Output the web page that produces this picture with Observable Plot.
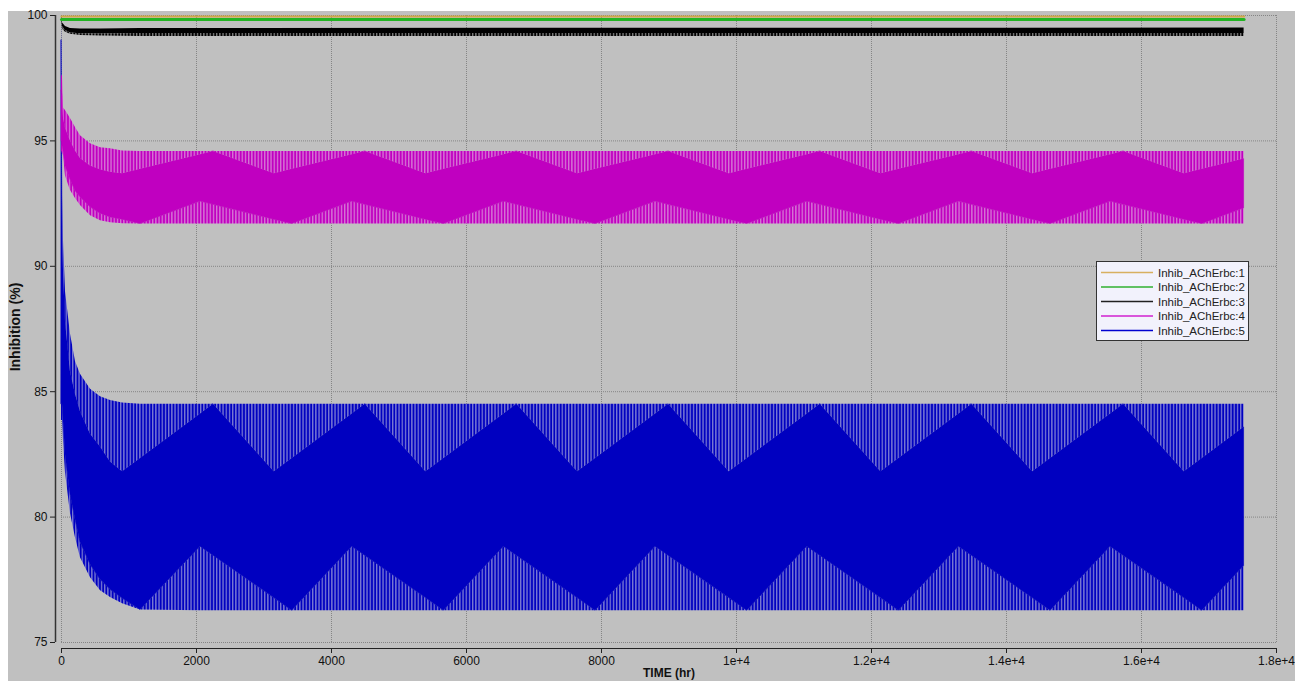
<!DOCTYPE html>
<html>
<head>
<meta charset="utf-8">
<script src="https://cdn.jsdelivr.net/npm/d3@7"></script>
<script src="https://cdn.jsdelivr.net/npm/@observablehq/plot@0.6"></script>
<style>
  html, body { margin: 0; padding: 0; background: #ffffff; }
  body { width: 1295px; height: 681px; position: relative; overflow: hidden; font-family: "Liberation Sans", Arial, sans-serif; }
  #panel { position: absolute; left: 8px; top: 11px; width: 1287px; height: 670px; background: #c0c0c0; overflow: visible; }
  #chart { position: absolute; left: 0; top: 0; }
  #ylab { position: absolute; left: 7px; top: 316px; transform: translate(-50%, -50%) rotate(-90deg); font-weight: bold; font-size: 14px; color: #111; white-space: nowrap; }
  #xlab { position: absolute; left: 661px; top: 656px; transform: translateX(-50%); font-weight: bold; font-size: 12px; color: #111; white-space: nowrap; line-height: 13px; }
  #legend { position: absolute; left: 1088px; top: 250px; width: 151px; height: 78px; background: #f2f2fc; border: 1px solid #333; }
</style>
</head>
<body>
<div id="panel">
  <div id="chart"></div>
  <div id="ylab">Inhibition (%)</div>
  <div id="xlab">TIME (hr)</div>
  <div id="legend"></div>
</div>
<script>
// ---- tick values / labels ----
const xTicks = [0, 2000, 4000, 6000, 8000, 10000, 12000, 14000, 16000, 18000];
const xTickLabels = ["0", "2000", "4000", "6000", "8000", "1e+4", "1.2e+4", "1.4e+4", "1.6e+4", "1.8e+4"];
const yTicks = [75, 80, 85, 90, 95, 100];

// ---- series names & colours ----
const seriesNames = ["Inhib_AChErbc:1", "Inhib_AChErbc:2", "Inhib_AChErbc:3", "Inhib_AChErbc:4", "Inhib_AChErbc:5"];
const legendColors = ["#d8b060", "#30b030", "#202020", "#d020d0", "#0000d0"];

// ---- envelope time points (hr) for series 4 and 5 ----
const T = [0, 15, 30, 59, 133, 207, 281, 430, 578, 726, 904, 1170, 2059, 2252,
  3151, 3417, 4306, 4499, 5398, 5664, 6553, 6746, 7645, 7911, 8800, 8993,
  9892, 10158, 11047, 11240, 12139, 12405, 13294, 13487, 14386, 14652, 15541, 15734,
  16633, 16899, 17520];

// Series 5 (blue): highest peaks, lowest peaks, highest troughs, lowest troughs
const s5Hi = [100, 92.8, 91.0, 89.0, 87.3, 86.2, 85.7, 85.1, 84.8, 84.65, 84.55, 84.5, 84.5, 84.5,
  84.5, 84.5, 84.5, 84.5, 84.5, 84.5, 84.5, 84.5, 84.5, 84.5, 84.5, 84.5,
  84.5, 84.5, 84.5, 84.5, 84.5, 84.5, 84.5, 84.5, 84.5, 84.5, 84.5, 84.5,
  84.5, 84.5, 84.5];
const s5HiIn = [99, 91.5, 89.8, 87.8, 85.8, 84.9, 84.2, 83.3, 82.8, 82.2, 81.81, 82.34, 84.11, 84.5,
  81.81, 82.34, 84.11, 84.5, 81.81, 82.34, 84.11, 84.5, 81.81, 82.34, 84.11, 84.5,
  81.81, 82.34, 84.11, 84.5, 81.81, 82.34, 84.11, 84.5, 81.81, 82.34, 84.11, 84.5,
  81.81, 82.34, 83.58];
const s5LoIn = [84.5, 84.5, 83.8, 82.5, 80.9, 79.9, 79.0, 78.1, 77.5, 77.1, 76.75, 76.3, 78.82, 78.46,
  76.77, 76.27, 78.82, 78.46, 76.77, 76.27, 78.82, 78.46, 76.77, 76.27, 78.82, 78.46,
  76.77, 76.27, 78.82, 78.46, 76.77, 76.27, 78.82, 78.46, 76.77, 76.27, 78.82, 78.46,
  76.77, 76.27, 78.05];
const s5Lo = [83.85, 83.85, 83.0, 81.77, 80.14, 79.18, 78.38, 77.58, 77.06, 76.79, 76.55, 76.3, 76.27, 76.27,
  76.27, 76.27, 76.27, 76.27, 76.27, 76.27, 76.27, 76.27, 76.27, 76.27, 76.27, 76.27,
  76.27, 76.27, 76.27, 76.27, 76.27, 76.27, 76.27, 76.27, 76.27, 76.27, 76.27, 76.27,
  76.27, 76.27, 76.27];

// Series 4 (magenta)
const s4Hi = [97.6, 97.6, 96.3, 96.21, 95.89, 95.53, 95.21, 94.89, 94.73, 94.69, 94.6, 94.58, 94.58, 94.58,
  94.58, 94.58, 94.58, 94.58, 94.58, 94.58, 94.58, 94.58, 94.58, 94.58, 94.58, 94.58,
  94.58, 94.58, 94.58, 94.58, 94.58, 94.58, 94.58, 94.58, 94.58, 94.58, 94.58, 94.58,
  94.58, 94.58, 94.58];
const s4HiIn = [97.0, 96.8, 95.9, 95.5, 95.0, 94.6, 94.3, 94.0, 93.85, 93.75, 93.69, 93.87, 94.45, 94.58,
  93.69, 93.87, 94.45, 94.58, 93.69, 93.87, 94.45, 94.58, 93.69, 93.87, 94.45, 94.58,
  93.69, 93.87, 94.45, 94.58, 93.69, 93.87, 94.45, 94.58, 93.69, 93.87, 94.45, 94.58,
  93.69, 93.87, 94.28];
const s4LoIn = [95.0, 94.8, 94.6, 94.0, 93.45, 93.0, 92.75, 92.35, 92.1, 91.95, 91.86, 91.69, 92.58, 92.45,
  91.86, 91.69, 92.58, 92.45, 91.86, 91.69, 92.58, 92.45, 91.86, 91.69, 92.58, 92.45,
  91.86, 91.69, 92.58, 92.45, 91.86, 91.69, 92.58, 92.45, 91.86, 91.69, 92.58, 92.45,
  91.86, 91.69, 92.31];
const s4Lo = [94.6, 94.5, 94.4, 93.6, 93.02, 92.7, 92.42, 92.02, 91.82, 91.74, 91.7, 91.69, 91.69, 91.69,
  91.69, 91.69, 91.69, 91.69, 91.69, 91.69, 91.69, 91.69, 91.69, 91.69, 91.69, 91.69,
  91.69, 91.69, 91.69, 91.69, 91.69, 91.69, 91.69, 91.69, 91.69, 91.69, 91.69, 91.69,
  91.69, 91.69, 91.69];

// Series 3 (black)
const s3T = [0, 15, 59, 133, 281, 578, 1170, 17520];
const s3Hi = [100, 99.7, 99.56, 99.48, 99.46, 99.46, 99.48, 99.5];
const s3Mid = [100, 99.55, 99.4, 99.3, 99.27, 99.26, 99.28, 99.28];
const s3Lo = [99.9, 99.45, 99.33, 99.25, 99.2, 99.18, 99.16, 99.16];

// Series 1 & 2 (near 100 %)
const s12T = [0, 17520];
const s1 = [99.96, 99.96];
const s2 = [99.84, 99.84];

// ---- build tables ----
const band = (hi, hiIn, loIn, lo, times) => times.map((t, i) => ({t, hi: hi[i], hiIn: hiIn[i], loIn: loIn[i], lo: lo[i]}));
const rows5 = band(s5Hi, s5HiIn, s5LoIn, s5Lo, T);
const rows4 = band(s4Hi, s4HiIn, s4LoIn, s4Lo, T);
const rows3 = s3T.map((t, i) => ({t, hi: s3Hi[i], mid: s3Mid[i], lo: s3Lo[i]}));
const rows1 = s12T.map((t, i) => ({t, v: s1[i]}));
const rows2 = s12T.map((t, i) => ({t, v: s2[i]}));

const BLUE = "#0000c0", MAG = "#c000c0", BLK = "#000000";
const H5 = "#010101", H4 = "#020202", H3 = "#030303"; // placeholders, replaced by patterns

const bandMarks = (rows, solid, hatch) => [
  Plot.areaY(rows, {x: "t", y1: "lo", y2: "loIn", fill: hatch}),
  Plot.areaY(rows, {x: "t", y1: "loIn", y2: "hiIn", fill: solid, stroke: solid, strokeWidth: 0.6}),
  Plot.areaY(rows, {x: "t", y1: "hiIn", y2: "hi", fill: hatch})
];

const gridStyle = {stroke: "#858585", strokeOpacity: 1, strokeDasharray: "1,1", strokeWidth: 1};

const chart = Plot.plot({
  width: 1287,
  height: 670,
  marginLeft: 53,
  marginRight: 19,
  marginTop: 4,
  marginBottom: 39,
  style: {background: "transparent", fontFamily: "'Liberation Sans', Arial, sans-serif", fontSize: "12px", color: "#111", overflow: "visible"},
  x: {domain: [0, 18000]},
  y: {domain: [75, 100]},
  marks: [
    Plot.gridX(xTicks, gridStyle),
    Plot.gridY(yTicks, gridStyle),
    ...bandMarks(rows5, BLUE, H5),
    ...bandMarks(rows4, MAG, H4),
    Plot.areaY(rows3, {x: "t", y1: "mid", y2: "hi", fill: BLK}),
    Plot.areaY(rows3, {x: "t", y1: "lo", y2: "mid", fill: H3}),
    Plot.lineY(rows2, {x: "t", y: "v", stroke: "#22b422", strokeWidth: 3}),
    Plot.lineY(rows1, {x: "t", y: "v", stroke: "#d0a848", strokeWidth: 2.2}),
    Plot.ruleY([75], {dy: 6, stroke: "#222", strokeWidth: 1}),
    Plot.ruleX([0], {dx: -6, stroke: "#333", strokeWidth: 1.5}),
    Plot.axisX(xTicks, {tickSize: 5, tickPadding: 3, dy: 6, stroke: "#222", fill: "#111", fontSize: 12,
      tickFormat: (d) => xTickLabels[xTicks.indexOf(d)], label: null}),
    Plot.axisY(yTicks, {tickSize: 5, tickPadding: 3, dx: -6, stroke: "#222", fill: "#111", fontSize: 12, label: null})
  ]
});
document.getElementById("chart").appendChild(chart);

// ---- hatch patterns (dense oscillation rendering) ----
const svg = d3.select(chart.tagName.toLowerCase() === "svg" ? chart : chart.querySelector("svg"));
const defs = svg.insert("defs", ":first-child");
function addPattern(id, base, stripe) {
  const p = defs.append("pattern").attr("id", id).attr("patternUnits", "userSpaceOnUse")
    .attr("width", 3.2).attr("height", 20);
  p.append("rect").attr("width", 3.2).attr("height", 20).attr("fill", base);
  p.append("rect").attr("x", 0.2).attr("width", 1.0).attr("height", 20).attr("fill", stripe);
}
addPattern("hatch5", BLUE, "#a4a4da");
addPattern("hatch4", MAG, "#dc9edc");
addPattern("hatch3", BLK, "#a8a8a8");
[[H5, "hatch5"], [H4, "hatch4"], [H3, "hatch3"]].forEach(([ph, id]) => {
  svg.node().querySelectorAll(`[fill="${ph}"]`).forEach(el => el.setAttribute("fill", `url(#${id})`));
});

// ---- legend ----
const lg = d3.select("#legend").append("svg").attr("width", 151).attr("height", 78);
seriesNames.forEach((name, i) => {
  const y = 10.5 + i * 14.5;
  lg.append("line").attr("x1", 4).attr("x2", 56).attr("y1", y).attr("y2", y)
    .attr("stroke", legendColors[i]).attr("stroke-width", 1.5);
  lg.append("text").attr("x", 61).attr("y", y + 4).text(name)
    .attr("font-family", "'Liberation Sans', Arial, sans-serif").attr("font-size", 11.5).attr("fill", "#222");
});
</script>
</body>
</html>
